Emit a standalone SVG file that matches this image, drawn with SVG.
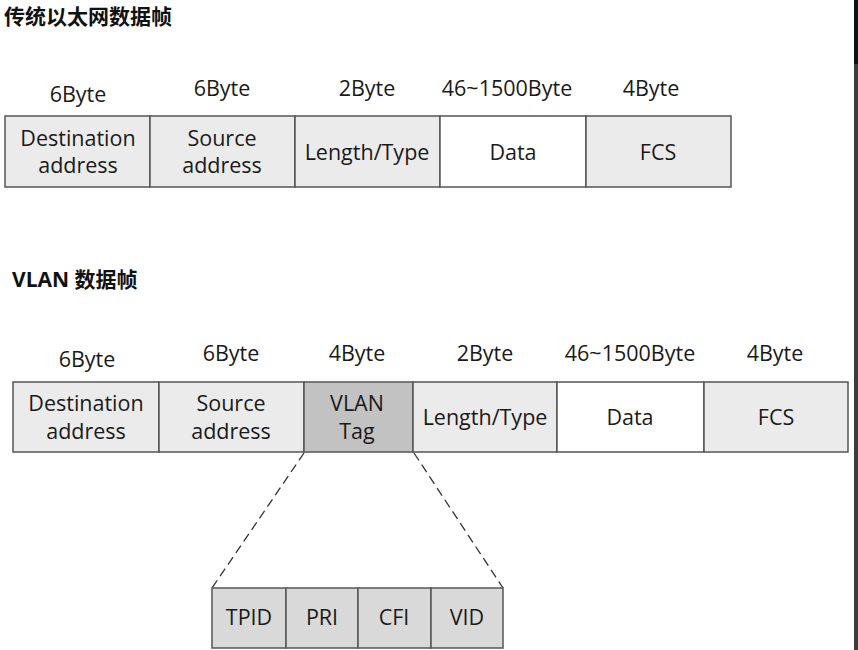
<svg xmlns="http://www.w3.org/2000/svg" width="858" height="650" viewBox="0 0 858 650">
<style>
.t{font-family:"Open Sans","Noto Sans","Noto Sans CJK SC",sans-serif;font-size:21.5px;fill:#1a1a1a;text-anchor:middle}
.h{font-family:"Open Sans","Noto Sans CJK SC",sans-serif;font-size:21px;font-weight:bold;fill:#111}
.c{stroke:#555;stroke-width:1.5}
.g{fill:#ebebeb}
.w{fill:#ffffff}
.d{fill:#c2c2c2}
.s{fill:#d9d9d9}
.dash{stroke:#333;stroke-width:1.3;stroke-dasharray:9 5;fill:none}
</style>
<rect width="858" height="650" fill="#ffffff"/>
<text class="h" x="4" y="24">传统以太网数据帧</text>
<text class="h" x="12" y="287">VLAN 数据帧</text>

<g id="eth">
<g id="eth-dst"><rect class="c g" x="5" y="116" width="145" height="71"/><text class="t" x="78" y="102">6Byte</text><text class="t" x="78" y="146">Destination</text><text class="t" x="78" y="173">address</text></g>
<g id="eth-src"><rect class="c g" x="150" y="116" width="145" height="71"/><text class="t" x="222" y="96">6Byte</text><text class="t" x="222" y="146">Source</text><text class="t" x="222" y="173">address</text></g>
<g id="eth-len"><rect class="c g" x="295" y="116" width="145" height="71"/><text class="t" x="367" y="160">Length/Type</text><text class="t" x="367" y="96">2Byte</text></g>
<g id="eth-data"><rect class="c w" x="440" y="116" width="146" height="71"/><text class="t" x="507" y="96">46~1500Byte</text><text class="t" x="513" y="160">Data</text></g>
<g id="eth-fcs"><rect class="c g" x="586" y="116" width="145" height="71"/><text class="t" x="651" y="96">4Byte</text><text class="t" x="658" y="160">FCS</text></g>
</g>

<g id="vlan">
<g id="v-dst"><rect class="c g" x="13" y="382" width="146" height="70"/><text class="t" x="87" y="367">6Byte</text><text class="t" x="86" y="411">Destination</text><text class="t" x="86" y="439">address</text></g>
<g id="v-src"><rect class="c g" x="159" y="382" width="145" height="70"/><text class="t" x="231" y="361">6Byte</text><text class="t" x="231" y="411">Source</text><text class="t" x="231" y="439">address</text></g>
<g id="v-tag"><rect class="c d" x="304" y="382" width="109" height="70"/><text class="t" x="357" y="361">4Byte</text><text class="t" x="357" y="411">VLAN</text><text class="t" x="357" y="439">Tag</text></g>
<g id="v-len"><rect class="c g" x="413" y="382" width="144" height="70"/><text class="t" x="485" y="361">2Byte</text><text class="t" x="485" y="425">Length/Type</text></g>
<g id="v-data"><rect class="c w" x="557" y="382" width="147" height="70"/><text class="t" x="630" y="361">46~1500Byte</text><text class="t" x="630" y="425">Data</text></g>
<g id="v-fcs"><rect class="c g" x="704" y="382" width="144" height="70"/><text class="t" x="775" y="361">4Byte</text><text class="t" x="776" y="425">FCS</text></g>
</g>

<g id="connectors">
<line class="dash" x1="304" y1="453" x2="212" y2="588"/>
<line class="dash" x1="414" y1="453" x2="503" y2="588"/>
</g>

<g id="tag">
<g id="tpid"><rect class="c s" x="212" y="588" width="74" height="60"/><text class="t" x="249" y="625">TPID</text></g>
<g id="pri"><rect class="c s" x="286" y="588" width="72" height="60"/><text class="t" x="322" y="625">PRI</text></g>
<g id="cfi"><rect class="c s" x="358" y="588" width="73" height="60"/><text class="t" x="394" y="625">CFI</text></g>
<g id="vid"><rect class="c s" x="431" y="588" width="72" height="60"/><text class="t" x="467" y="625">VID</text></g>
</g>

<rect x="854" y="0" width="4" height="650" fill="#3c3c3c"/>
<rect x="854" y="0" width="4" height="64" fill="#111111"/>
</svg>
